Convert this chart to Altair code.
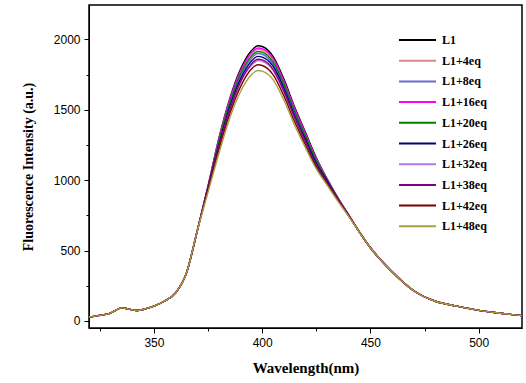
import altair as alt
import pandas as pd

SERIES = ["L1", "L1+4eq", "L1+8eq", "L1+16eq", "L1+20eq",
          "L1+26eq", "L1+32eq", "L1+38eq", "L1+42eq", "L1+48eq"]
COLORS = ["#000000", "#E08585", "#6A6AD0", "#FF00FF", "#008000",
          "#000080", "#B07AE8", "#800080", "#800000", "#A8A040"]

# shared tails (all spectra overlap there)
WL_LEFT = [320, 325, 330, 335, 338, 342, 346, 350, 355, 360, 365, 370]
TAIL_LEFT = [28, 40, 56, 93, 86, 74, 86, 106, 142, 200, 340, 640]
WL_RIGHT = [445, 450, 460, 470, 480, 490, 500, 510, 520]
TAIL_RIGHT = [630, 520, 350, 215, 140, 105, 75, 55, 38]

# peak region, one list per spectrum
WL_PEAK = [375, 380, 385, 390, 395, 398, 400, 405, 410, 415, 420, 425, 430, 435, 440]
PEAK_L1 = [960, 1300, 1580, 1790, 1920, 1955, 1950, 1880, 1720, 1520, 1340, 1160, 1010, 875, 752]
PEAK_4 = [958, 1285, 1560, 1765, 1895, 1930, 1925, 1855, 1700, 1500, 1325, 1145, 1005, 872, 751]
PEAK_8 = [952, 1265, 1535, 1740, 1865, 1900, 1895, 1825, 1670, 1480, 1305, 1130, 1000, 868, 750]
PEAK_16 = [960, 1290, 1570, 1775, 1905, 1940, 1935, 1865, 1705, 1510, 1330, 1150, 1005, 874, 752]
PEAK_20 = [955, 1275, 1550, 1755, 1880, 1915, 1910, 1840, 1685, 1490, 1315, 1140, 1000, 870, 750]
PEAK_26 = [950, 1250, 1520, 1720, 1845, 1880, 1875, 1810, 1655, 1460, 1290, 1120, 995, 866, 749]
PEAK_32 = [940, 1230, 1495, 1695, 1815, 1850, 1845, 1780, 1625, 1440, 1265, 1100, 980, 860, 746]
PEAK_38 = [945, 1240, 1500, 1700, 1825, 1860, 1855, 1790, 1635, 1445, 1275, 1105, 985, 862, 747]
PEAK_42 = [935, 1215, 1470, 1665, 1790, 1820, 1815, 1750, 1600, 1415, 1250, 1090, 975, 857, 745]
PEAK_48 = [915, 1190, 1440, 1630, 1750, 1780, 1775, 1715, 1570, 1390, 1230, 1080, 965, 850, 742]
PEAKS = [PEAK_L1, PEAK_4, PEAK_8, PEAK_16, PEAK_20,
         PEAK_26, PEAK_32, PEAK_38, PEAK_42, PEAK_48]

X_TICKS = [325, 350, 375, 400, 425, 450, 475, 500]
Y_TICKS = [0, 250, 500, 750, 1000, 1250, 1500, 1750, 2000]

rows = []
for i, (name, peak) in enumerate(zip(SERIES, PEAKS)):
    wl = WL_LEFT + WL_PEAK + WL_RIGHT
    val = TAIL_LEFT + peak + TAIL_RIGHT
    for w, v in zip(wl, val):
        rows.append({"series": name, "order": i, "wl": w, "val": v})
df = pd.DataFrame(rows)

serif = "Liberation Serif"
sans = "Liberation Sans"

chart = alt.Chart(df).mark_line(strokeWidth=1.4, interpolate="monotone").encode(
    x=alt.X("wl:Q", scale=alt.Scale(domain=[320, 520], nice=False, zero=False),
            axis=alt.Axis(values=X_TICKS, title="Wavelength(nm)",
                          labelExpr="datum.value % 50 === 0 ? datum.label : ''",
                          tickSize={"condition": {"test": "datum.value % 50 === 0", "value": 5}, "value": 3},
                          grid=False, labelFont=sans, labelFontSize=12, labelPadding=4,
                          titleFont=serif, titleFontSize=15, titleFontWeight="bold",
                          titlePadding=12, domainColor="black", tickColor="black",
                          labelColor="black", titleColor="black")),
    y=alt.Y("val:Q", scale=alt.Scale(domain=[-50, 2245], nice=False, zero=False),
            axis=alt.Axis(values=Y_TICKS, title="Fluorescence Intensity (a.u.)",
                          labelExpr="datum.value % 500 === 0 ? datum.label : ''",
                          tickSize={"condition": {"test": "datum.value % 500 === 0", "value": 5}, "value": 3},
                          grid=False, labelFont=sans, labelFontSize=12, labelPadding=4,
                          titleFont=serif, titleFontSize=14, titleFontWeight="bold",
                          titlePadding=18, domainColor="black", tickColor="black",
                          labelColor="black", titleColor="black", format="d")),
    color=alt.Color("series:N", sort=SERIES,
                    scale=alt.Scale(domain=SERIES, range=COLORS),
                    legend=alt.Legend(title=None, orient="none", legendX=309, legendY=28,
                                      symbolType="stroke", symbolSize=1369,
                                      symbolStrokeWidth=2, clipHeight=14, rowPadding=6.7,
                                      labelFont=serif, labelFontSize=12,
                                      labelFontWeight="bold", labelColor="black",
                                      labelOffset=5, padding=0)),
    order=alt.Order("order:Q"),
).properties(
    width=433, height=323,
    padding={"left": 89, "top": 5, "right": 4, "bottom": 55},
    autosize=alt.AutoSizeParams(type="none"),
    background="white",
).configure_view(stroke="black", strokeWidth=1.5)

chart.save("out.html", embed_options={"renderer": "svg", "actions": False})
